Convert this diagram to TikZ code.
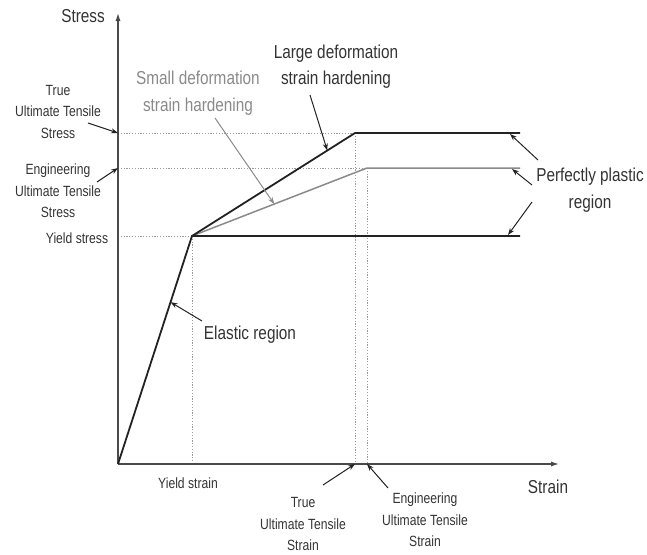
\documentclass[tikz,border=0pt]{standalone}
\usepackage{fontspec}
\setmainfont{Liberation Sans}[FakeStretch=0.82]
\usetikzlibrary{arrows.meta,calc}
\definecolor{textgray}{HTML}{333333}
\definecolor{axisgray}{HTML}{4A4A4A}
\definecolor{curveblack}{HTML}{222222}
\definecolor{softgray}{HTML}{8A8A8A}
\definecolor{guidegray}{HTML}{9A9A9A}
\begin{document}
\begin{tikzpicture}[x=1pt,y=-1pt,
  axisline/.style={draw=axisgray, line width=1.8pt, -{Latex[length=9pt,width=5pt]}},
  curve/.style={draw=curveblack, line width=1.8pt},
  softcurve/.style={draw=softgray, line width=1.5pt},
  guide/.style={draw=guidegray, line width=0.8pt, dash pattern=on 1.2pt off 1.6pt},
  pointer/.style={draw=curveblack, line width=1pt, -{Stealth[length=7pt,width=5pt]}},
  softpointer/.style={draw=softgray, line width=1pt, -{Stealth[length=7pt,width=5pt]}},
  biglabel/.style={font=\fontsize{18.7}{26.5}\selectfont, text=textgray, align=center, inner sep=0pt},
  smalllabel/.style={font=\fontsize{14.8}{21.5}\selectfont, text=textgray, align=center, inner sep=0pt}]
\useasboundingbox (0,0) rectangle (647,554);
% key points
\coordinate (O) at (118,464);
\coordinate (Ytop) at (118,12);
\coordinate (Xend) at (560,464);
\coordinate (Y) at (192,236);
\coordinate (T) at (355,133);
\coordinate (E) at (367,168);
\coordinate (TR) at (520,133);
\coordinate (ER) at (520,168);
\coordinate (YR) at (520,236);
\coordinate (Tax) at (118,133);
\coordinate (Eax) at (118,168);
\coordinate (Yax) at (118,236);
\coordinate (Ybot) at (192,464);
\coordinate (Tbot) at (355,464);
\coordinate (Ebot) at (367,464);
% guide lines
\draw[guide] (Tax) -- (T);
\draw[guide] (Eax) -- (E);
\draw[guide] (Yax) -- (Y);
\draw[guide] (Y) -- (Ybot);
\draw[guide] (T) -- (Tbot);
\draw[guide] (E) -- (Ebot);
% axes
\draw[axisline] (O) -- (Ytop);
\draw[axisline] (O) -- (Xend);
% curves
\draw[softcurve] (Y) -- (E) -- (ER);
\draw[curve] (O) -- (Y) -- (YR);
\draw[curve] (Y) -- (T) -- (TR);
% labels
\node[biglabel] (stress) at (83,16) {Stress};
\node[biglabel] (strain) at (548,487) {Strain};
\node[biglabel] (large) at (336,66.5) {Large deformation\\strain hardening};
\node[biglabel, text=softgray] (small) at (198,93) {Small deformation\\strain hardening};
\node[biglabel] (plastic) at (590,190) {Perfectly plastic\\region};
\node[biglabel] (elastic) at (250,335) {Elastic region};
\node[smalllabel] (truestress) at (58,111.5) {True\\Ultimate Tensile\\Stress};
\node[smalllabel] (engstress) at (58,191) {Engineering\\Ultimate Tensile\\Stress};
\node[smalllabel] (yieldstress) at (77,238) {Yield stress};
\node[smalllabel] (yieldstrain) at (188,483) {Yield strain};
\node[smalllabel] (truestrain) at (303,524) {True\\Ultimate Tensile\\Strain};
\node[smalllabel] (engstrain) at (425,520) {Engineering\\Ultimate Tensile\\Strain};
% pointer tails
\coordinate (largeT) at (310,95);
\coordinate (smallT) at (215,118);
\coordinate (elasticT) at (202,321);
\coordinate (plT1) at (538,160);
\coordinate (plT2) at (532,185);
\coordinate (plT3) at (532,202);
\coordinate (tsT) at (88,123);
\coordinate (esT) at (97,182);
\coordinate (tnT) at (323,485);
\coordinate (enT) at (388,488);
% pointer tips
\coordinate (largeH) at ($(Y)!0.83!(T)$);
\coordinate (smallH) at ($(Y)!0.47!(E)$);
\coordinate (elasticH) at ($(O)!0.71!(Y)$);
\coordinate (plH1) at (510,134);
\coordinate (plH2) at (512,169);
\coordinate (plH3) at (508,235);
% pointers
\draw[pointer] (largeT) -- (largeH);
\draw[softpointer] (smallT) -- (smallH);
\draw[pointer] (elasticT) -- (elasticH);
\draw[pointer] (plT1) -- (plH1);
\draw[pointer] (plT2) -- (plH2);
\draw[pointer] (plT3) -- (plH3);
\draw[pointer] (tsT) -- (Tax);
\draw[pointer] (esT) -- (Eax);
\draw[pointer] (tnT) -- (Tbot);
\draw[pointer] (enT) -- (Ebot);
\end{tikzpicture}
\end{document}
